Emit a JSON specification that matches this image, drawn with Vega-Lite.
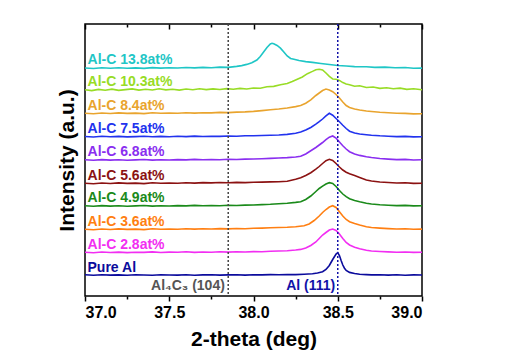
{
"$schema": "https://vega.github.io/schema/vega-lite/v6.json",
"width": 337, "height": 272,
"autosize": {"type": "none"},
"padding": {"left": 85, "top": 24, "right": 87, "bottom": 62},
"config": {
  "font": "Liberation Sans",
  "view": {"stroke": "black", "strokeWidth": 1.5},
  "axisY": {"labels": false, "ticks": false, "domain": false, "grid": false, "titleFontSize": 21, "titleFontWeight": "bold", "titleColor": "black", "titlePadding": 8, "titleFont": "Liberation Sans"},
  "axisX": {"grid": false, "domain": false}
},
"datasets": {
"spectra": [
{"s":"Pure","x":37.00,"y":20.2},{"s":"Pure","x":37.05,"y":19.8},{"s":"Pure","x":37.10,"y":20.3},{"s":"Pure","x":37.15,"y":19.9},{"s":"Pure","x":37.20,"y":20.1},{"s":"Pure","x":37.25,"y":19.7},{"s":"Pure","x":37.30,"y":20.2},{"s":"Pure","x":37.35,"y":20.0},{"s":"Pure","x":37.40,"y":19.8},{"s":"Pure","x":37.45,"y":20.3},{"s":"Pure","x":37.50,"y":20.0},{"s":"Pure","x":37.55,"y":19.9},{"s":"Pure","x":37.60,"y":20.2},{"s":"Pure","x":37.65,"y":19.8},{"s":"Pure","x":37.70,"y":20.1},{"s":"Pure","x":37.75,"y":20.3},{"s":"Pure","x":37.80,"y":19.9},{"s":"Pure","x":37.85,"y":20.1},{"s":"Pure","x":37.90,"y":20.2},{"s":"Pure","x":37.95,"y":19.9},{"s":"Pure","x":38.00,"y":20.3},{"s":"Pure","x":38.05,"y":20.1},{"s":"Pure","x":38.10,"y":20.4},{"s":"Pure","x":38.15,"y":20.2},{"s":"Pure","x":38.20,"y":20.5},{"s":"Pure","x":38.25,"y":20.4},{"s":"Pure","x":38.30,"y":20.8},{"s":"Pure","x":38.35,"y":21.3},{"s":"Pure","x":38.38,"y":22.0},{"s":"Pure","x":38.41,"y":23.3},{"s":"Pure","x":38.43,"y":25.5},{"s":"Pure","x":38.45,"y":29.5},{"s":"Pure","x":38.47,"y":35.5},{"s":"Pure","x":38.49,"y":41.0},{"s":"Pure","x":38.50,"y":42.3},{"s":"Pure","x":38.51,"y":39.5},{"s":"Pure","x":38.52,"y":34.5},{"s":"Pure","x":38.53,"y":30.0},{"s":"Pure","x":38.54,"y":26.8},{"s":"Pure","x":38.55,"y":24.5},{"s":"Pure","x":38.57,"y":22.6},{"s":"Pure","x":38.60,"y":21.5},{"s":"Pure","x":38.63,"y":20.8},{"s":"Pure","x":38.67,"y":20.4},{"s":"Pure","x":38.70,"y":20.1},{"s":"Pure","x":38.75,"y":20.3},{"s":"Pure","x":38.80,"y":19.9},{"s":"Pure","x":38.85,"y":20.2},{"s":"Pure","x":38.90,"y":19.8},{"s":"Pure","x":38.95,"y":20.1},{"s":"Pure","x":39.00,"y":20.0},
{"s":"2.8","x":37.00,"y":42.8},{"s":"2.8","x":37.05,"y":42.3},{"s":"2.8","x":37.10,"y":43.0},{"s":"2.8","x":37.15,"y":42.5},{"s":"2.8","x":37.20,"y":42.9},{"s":"2.8","x":37.25,"y":42.4},{"s":"2.8","x":37.30,"y":42.8},{"s":"2.8","x":37.35,"y":42.6},{"s":"2.8","x":37.40,"y":43.1},{"s":"2.8","x":37.45,"y":42.5},{"s":"2.8","x":37.50,"y":42.9},{"s":"2.8","x":37.55,"y":42.7},{"s":"2.8","x":37.60,"y":43.2},{"s":"2.8","x":37.65,"y":42.6},{"s":"2.8","x":37.70,"y":43.0},{"s":"2.8","x":37.75,"y":42.8},{"s":"2.8","x":37.80,"y":43.3},{"s":"2.8","x":37.85,"y":42.9},{"s":"2.8","x":37.90,"y":43.2},{"s":"2.8","x":37.95,"y":43.0},{"s":"2.8","x":38.00,"y":43.4},{"s":"2.8","x":38.05,"y":43.3},{"s":"2.8","x":38.10,"y":43.7},{"s":"2.8","x":38.15,"y":44.0},{"s":"2.8","x":38.20,"y":44.3},{"s":"2.8","x":38.25,"y":45.0},{"s":"2.8","x":38.28,"y":45.6},{"s":"2.8","x":38.31,"y":47.0},{"s":"2.8","x":38.34,"y":49.5},{"s":"2.8","x":38.37,"y":53.0},{"s":"2.8","x":38.39,"y":56.5},{"s":"2.8","x":38.41,"y":60.0},{"s":"2.8","x":38.43,"y":62.5},{"s":"2.8","x":38.45,"y":65.0},{"s":"2.8","x":38.47,"y":66.0},{"s":"2.8","x":38.49,"y":64.5},{"s":"2.8","x":38.51,"y":61.0},{"s":"2.8","x":38.53,"y":56.5},{"s":"2.8","x":38.55,"y":52.5},{"s":"2.8","x":38.57,"y":50.0},{"s":"2.8","x":38.60,"y":47.8},{"s":"2.8","x":38.63,"y":46.3},{"s":"2.8","x":38.67,"y":44.8},{"s":"2.8","x":38.70,"y":44.0},{"s":"2.8","x":38.75,"y":43.5},{"s":"2.8","x":38.80,"y":43.1},{"s":"2.8","x":38.85,"y":42.8},{"s":"2.8","x":38.90,"y":43.0},{"s":"2.8","x":38.95,"y":42.6},{"s":"2.8","x":39.00,"y":42.7},
{"s":"3.6","x":37.00,"y":65.8},{"s":"3.6","x":37.05,"y":65.3},{"s":"3.6","x":37.10,"y":66.0},{"s":"3.6","x":37.15,"y":65.5},{"s":"3.6","x":37.20,"y":66.1},{"s":"3.6","x":37.25,"y":65.6},{"s":"3.6","x":37.30,"y":65.9},{"s":"3.6","x":37.35,"y":65.4},{"s":"3.6","x":37.40,"y":66.2},{"s":"3.6","x":37.45,"y":65.7},{"s":"3.6","x":37.50,"y":66.0},{"s":"3.6","x":37.55,"y":65.8},{"s":"3.6","x":37.60,"y":66.3},{"s":"3.6","x":37.65,"y":65.9},{"s":"3.6","x":37.70,"y":66.2},{"s":"3.6","x":37.75,"y":66.0},{"s":"3.6","x":37.80,"y":66.4},{"s":"3.6","x":37.85,"y":66.1},{"s":"3.6","x":37.90,"y":66.5},{"s":"3.6","x":37.95,"y":66.3},{"s":"3.6","x":38.00,"y":66.7},{"s":"3.6","x":38.05,"y":66.9},{"s":"3.6","x":38.10,"y":67.2},{"s":"3.6","x":38.15,"y":67.5},{"s":"3.6","x":38.20,"y":67.8},{"s":"3.6","x":38.25,"y":68.3},{"s":"3.6","x":38.30,"y":69.3},{"s":"3.6","x":38.33,"y":71.0},{"s":"3.6","x":38.36,"y":74.5},{"s":"3.6","x":38.39,"y":79.0},{"s":"3.6","x":38.41,"y":82.5},{"s":"3.6","x":38.43,"y":85.5},{"s":"3.6","x":38.45,"y":88.0},{"s":"3.6","x":38.47,"y":89.3},{"s":"3.6","x":38.49,"y":87.5},{"s":"3.6","x":38.51,"y":83.3},{"s":"3.6","x":38.53,"y":79.0},{"s":"3.6","x":38.55,"y":75.5},{"s":"3.6","x":38.57,"y":73.3},{"s":"3.6","x":38.60,"y":71.5},{"s":"3.6","x":38.63,"y":70.0},{"s":"3.6","x":38.67,"y":68.3},{"s":"3.6","x":38.70,"y":67.5},{"s":"3.6","x":38.75,"y":66.9},{"s":"3.6","x":38.80,"y":66.4},{"s":"3.6","x":38.85,"y":66.0},{"s":"3.6","x":38.90,"y":66.2},{"s":"3.6","x":38.95,"y":65.7},{"s":"3.6","x":39.00,"y":65.9},
{"s":"4.9","x":37.00,"y":89.2},{"s":"4.9","x":37.05,"y":88.7},{"s":"4.9","x":37.10,"y":89.4},{"s":"4.9","x":37.15,"y":88.9},{"s":"4.9","x":37.20,"y":89.3},{"s":"4.9","x":37.25,"y":88.8},{"s":"4.9","x":37.30,"y":89.1},{"s":"4.9","x":37.35,"y":89.5},{"s":"4.9","x":37.40,"y":88.9},{"s":"4.9","x":37.45,"y":89.3},{"s":"4.9","x":37.50,"y":89.0},{"s":"4.9","x":37.55,"y":89.4},{"s":"4.9","x":37.60,"y":89.1},{"s":"4.9","x":37.65,"y":89.6},{"s":"4.9","x":37.70,"y":89.2},{"s":"4.9","x":37.75,"y":89.5},{"s":"4.9","x":37.80,"y":89.3},{"s":"4.9","x":37.85,"y":89.7},{"s":"4.9","x":37.90,"y":89.5},{"s":"4.9","x":37.95,"y":89.9},{"s":"4.9","x":38.00,"y":90.0},{"s":"4.9","x":38.05,"y":90.4},{"s":"4.9","x":38.10,"y":90.7},{"s":"4.9","x":38.15,"y":91.2},{"s":"4.9","x":38.20,"y":91.8},{"s":"4.9","x":38.25,"y":92.6},{"s":"4.9","x":38.28,"y":93.3},{"s":"4.9","x":38.31,"y":95.5},{"s":"4.9","x":38.34,"y":99.0},{"s":"4.9","x":38.37,"y":103.5},{"s":"4.9","x":38.39,"y":106.5},{"s":"4.9","x":38.41,"y":108.8},{"s":"4.9","x":38.43,"y":111.0},{"s":"4.9","x":38.45,"y":112.3},{"s":"4.9","x":38.47,"y":111.5},{"s":"4.9","x":38.49,"y":108.5},{"s":"4.9","x":38.51,"y":104.5},{"s":"4.9","x":38.53,"y":101.0},{"s":"4.9","x":38.55,"y":98.3},{"s":"4.9","x":38.57,"y":96.3},{"s":"4.9","x":38.60,"y":94.5},{"s":"4.9","x":38.63,"y":93.2},{"s":"4.9","x":38.67,"y":91.7},{"s":"4.9","x":38.70,"y":91.0},{"s":"4.9","x":38.75,"y":90.2},{"s":"4.9","x":38.80,"y":89.8},{"s":"4.9","x":38.85,"y":89.4},{"s":"4.9","x":38.90,"y":89.6},{"s":"4.9","x":38.95,"y":89.1},{"s":"4.9","x":39.00,"y":89.2},
{"s":"5.6","x":37.00,"y":111.8},{"s":"5.6","x":37.05,"y":111.3},{"s":"5.6","x":37.10,"y":112.0},{"s":"5.6","x":37.15,"y":111.5},{"s":"5.6","x":37.20,"y":112.1},{"s":"5.6","x":37.25,"y":111.6},{"s":"5.6","x":37.30,"y":111.9},{"s":"5.6","x":37.35,"y":111.4},{"s":"5.6","x":37.40,"y":112.2},{"s":"5.6","x":37.45,"y":111.7},{"s":"5.6","x":37.50,"y":112.0},{"s":"5.6","x":37.55,"y":111.8},{"s":"5.6","x":37.60,"y":112.3},{"s":"5.6","x":37.65,"y":111.9},{"s":"5.6","x":37.70,"y":112.4},{"s":"5.6","x":37.75,"y":112.1},{"s":"5.6","x":37.80,"y":112.5},{"s":"5.6","x":37.85,"y":112.2},{"s":"5.6","x":37.90,"y":112.6},{"s":"5.6","x":37.95,"y":112.4},{"s":"5.6","x":38.00,"y":112.8},{"s":"5.6","x":38.05,"y":112.9},{"s":"5.6","x":38.10,"y":113.1},{"s":"5.6","x":38.15,"y":113.2},{"s":"5.6","x":38.20,"y":113.8},{"s":"5.6","x":38.25,"y":115.8},{"s":"5.6","x":38.28,"y":117.3},{"s":"5.6","x":38.31,"y":119.5},{"s":"5.6","x":38.34,"y":122.3},{"s":"5.6","x":38.37,"y":125.8},{"s":"5.6","x":38.39,"y":128.5},{"s":"5.6","x":38.41,"y":131.5},{"s":"5.6","x":38.43,"y":134.3},{"s":"5.6","x":38.45,"y":135.7},{"s":"5.6","x":38.47,"y":134.5},{"s":"5.6","x":38.49,"y":131.5},{"s":"5.6","x":38.51,"y":128.0},{"s":"5.6","x":38.53,"y":125.0},{"s":"5.6","x":38.55,"y":122.8},{"s":"5.6","x":38.57,"y":121.3},{"s":"5.6","x":38.60,"y":119.5},{"s":"5.6","x":38.63,"y":117.5},{"s":"5.6","x":38.67,"y":115.0},{"s":"5.6","x":38.70,"y":114.0},{"s":"5.6","x":38.75,"y":113.0},{"s":"5.6","x":38.80,"y":112.5},{"s":"5.6","x":38.85,"y":112.0},{"s":"5.6","x":38.90,"y":112.2},{"s":"5.6","x":38.95,"y":111.6},{"s":"5.6","x":39.00,"y":111.8},
{"s":"6.8","x":37.00,"y":135.2},{"s":"6.8","x":37.05,"y":134.7},{"s":"6.8","x":37.10,"y":135.4},{"s":"6.8","x":37.15,"y":134.9},{"s":"6.8","x":37.20,"y":135.3},{"s":"6.8","x":37.25,"y":134.8},{"s":"6.8","x":37.30,"y":135.1},{"s":"6.8","x":37.35,"y":135.5},{"s":"6.8","x":37.40,"y":134.9},{"s":"6.8","x":37.45,"y":135.3},{"s":"6.8","x":37.50,"y":135.0},{"s":"6.8","x":37.55,"y":135.4},{"s":"6.8","x":37.60,"y":135.1},{"s":"6.8","x":37.65,"y":135.6},{"s":"6.8","x":37.70,"y":135.2},{"s":"6.8","x":37.75,"y":135.5},{"s":"6.8","x":37.80,"y":135.3},{"s":"6.8","x":37.85,"y":135.7},{"s":"6.8","x":37.90,"y":135.5},{"s":"6.8","x":37.95,"y":135.9},{"s":"6.8","x":38.00,"y":136.0},{"s":"6.8","x":38.05,"y":136.3},{"s":"6.8","x":38.10,"y":136.6},{"s":"6.8","x":38.15,"y":137.0},{"s":"6.8","x":38.20,"y":137.4},{"s":"6.8","x":38.25,"y":138.0},{"s":"6.8","x":38.28,"y":138.7},{"s":"6.8","x":38.31,"y":141.0},{"s":"6.8","x":38.34,"y":144.2},{"s":"6.8","x":38.37,"y":147.5},{"s":"6.8","x":38.39,"y":150.0},{"s":"6.8","x":38.41,"y":152.5},{"s":"6.8","x":38.43,"y":155.3},{"s":"6.8","x":38.45,"y":157.8},{"s":"6.8","x":38.47,"y":159.0},{"s":"6.8","x":38.49,"y":156.8},{"s":"6.8","x":38.51,"y":153.0},{"s":"6.8","x":38.53,"y":149.3},{"s":"6.8","x":38.55,"y":146.0},{"s":"6.8","x":38.57,"y":143.3},{"s":"6.8","x":38.60,"y":141.0},{"s":"6.8","x":38.63,"y":139.6},{"s":"6.8","x":38.67,"y":138.3},{"s":"6.8","x":38.70,"y":137.5},{"s":"6.8","x":38.75,"y":136.5},{"s":"6.8","x":38.80,"y":135.9},{"s":"6.8","x":38.85,"y":135.4},{"s":"6.8","x":38.90,"y":135.6},{"s":"6.8","x":38.95,"y":135.0},{"s":"6.8","x":39.00,"y":135.2},
{"s":"7.5","x":37.00,"y":158.5},{"s":"7.5","x":37.05,"y":158.0},{"s":"7.5","x":37.10,"y":158.7},{"s":"7.5","x":37.15,"y":158.2},{"s":"7.5","x":37.20,"y":158.6},{"s":"7.5","x":37.25,"y":158.1},{"s":"7.5","x":37.30,"y":158.4},{"s":"7.5","x":37.35,"y":158.8},{"s":"7.5","x":37.40,"y":158.2},{"s":"7.5","x":37.45,"y":158.6},{"s":"7.5","x":37.50,"y":158.3},{"s":"7.5","x":37.55,"y":158.7},{"s":"7.5","x":37.60,"y":158.4},{"s":"7.5","x":37.65,"y":158.9},{"s":"7.5","x":37.70,"y":158.5},{"s":"7.5","x":37.75,"y":158.8},{"s":"7.5","x":37.80,"y":158.6},{"s":"7.5","x":37.85,"y":159.0},{"s":"7.5","x":37.90,"y":158.8},{"s":"7.5","x":37.95,"y":159.2},{"s":"7.5","x":38.00,"y":159.3},{"s":"7.5","x":38.05,"y":159.5},{"s":"7.5","x":38.10,"y":159.7},{"s":"7.5","x":38.15,"y":160.0},{"s":"7.5","x":38.20,"y":160.6},{"s":"7.5","x":38.25,"y":161.8},{"s":"7.5","x":38.28,"y":163.0},{"s":"7.5","x":38.31,"y":165.0},{"s":"7.5","x":38.34,"y":167.5},{"s":"7.5","x":38.37,"y":170.8},{"s":"7.5","x":38.39,"y":173.3},{"s":"7.5","x":38.41,"y":176.0},{"s":"7.5","x":38.43,"y":179.2},{"s":"7.5","x":38.45,"y":181.7},{"s":"7.5","x":38.47,"y":179.8},{"s":"7.5","x":38.49,"y":176.5},{"s":"7.5","x":38.51,"y":173.3},{"s":"7.5","x":38.53,"y":169.8},{"s":"7.5","x":38.55,"y":166.5},{"s":"7.5","x":38.57,"y":163.8},{"s":"7.5","x":38.60,"y":162.0},{"s":"7.5","x":38.63,"y":161.0},{"s":"7.5","x":38.67,"y":160.3},{"s":"7.5","x":38.70,"y":159.8},{"s":"7.5","x":38.75,"y":159.2},{"s":"7.5","x":38.80,"y":158.8},{"s":"7.5","x":38.85,"y":158.4},{"s":"7.5","x":38.90,"y":158.6},{"s":"7.5","x":38.95,"y":158.1},{"s":"7.5","x":39.00,"y":158.3},
{"s":"8.4","x":37.00,"y":181.8},{"s":"8.4","x":37.05,"y":181.3},{"s":"8.4","x":37.10,"y":182.0},{"s":"8.4","x":37.15,"y":181.5},{"s":"8.4","x":37.20,"y":182.1},{"s":"8.4","x":37.25,"y":181.6},{"s":"8.4","x":37.30,"y":181.9},{"s":"8.4","x":37.35,"y":181.4},{"s":"8.4","x":37.40,"y":182.2},{"s":"8.4","x":37.45,"y":181.7},{"s":"8.4","x":37.50,"y":182.0},{"s":"8.4","x":37.55,"y":181.8},{"s":"8.4","x":37.60,"y":182.3},{"s":"8.4","x":37.65,"y":181.9},{"s":"8.4","x":37.70,"y":182.3},{"s":"8.4","x":37.75,"y":182.1},{"s":"8.4","x":37.80,"y":182.6},{"s":"8.4","x":37.85,"y":182.4},{"s":"8.4","x":37.90,"y":182.9},{"s":"8.4","x":37.95,"y":183.1},{"s":"8.4","x":38.00,"y":183.6},{"s":"8.4","x":38.05,"y":184.4},{"s":"8.4","x":38.10,"y":185.3},{"s":"8.4","x":38.15,"y":186.0},{"s":"8.4","x":38.20,"y":187.0},{"s":"8.4","x":38.25,"y":188.4},{"s":"8.4","x":38.28,"y":189.5},{"s":"8.4","x":38.31,"y":191.8},{"s":"8.4","x":38.34,"y":195.2},{"s":"8.4","x":38.37,"y":199.5},{"s":"8.4","x":38.39,"y":202.0},{"s":"8.4","x":38.41,"y":204.5},{"s":"8.4","x":38.43,"y":206.0},{"s":"8.4","x":38.45,"y":205.0},{"s":"8.4","x":38.47,"y":203.3},{"s":"8.4","x":38.49,"y":200.5},{"s":"8.4","x":38.51,"y":197.0},{"s":"8.4","x":38.53,"y":193.0},{"s":"8.4","x":38.55,"y":189.5},{"s":"8.4","x":38.57,"y":187.5},{"s":"8.4","x":38.60,"y":186.0},{"s":"8.4","x":38.63,"y":185.0},{"s":"8.4","x":38.67,"y":184.0},{"s":"8.4","x":38.70,"y":183.5},{"s":"8.4","x":38.75,"y":182.8},{"s":"8.4","x":38.80,"y":182.3},{"s":"8.4","x":38.85,"y":181.8},{"s":"8.4","x":38.90,"y":181.6},{"s":"8.4","x":38.95,"y":181.1},{"s":"8.4","x":39.00,"y":181.2},
{"s":"10.3","x":37.00,"y":205.3},{"s":"10.3","x":37.04,"y":204.4},{"s":"10.3","x":37.08,"y":205.6},{"s":"10.3","x":37.12,"y":204.8},{"s":"10.3","x":37.16,"y":205.9},{"s":"10.3","x":37.20,"y":204.6},{"s":"10.3","x":37.24,"y":205.4},{"s":"10.3","x":37.28,"y":206.1},{"s":"10.3","x":37.32,"y":204.9},{"s":"10.3","x":37.36,"y":205.8},{"s":"10.3","x":37.40,"y":205.0},{"s":"10.3","x":37.44,"y":206.2},{"s":"10.3","x":37.48,"y":205.1},{"s":"10.3","x":37.52,"y":205.7},{"s":"10.3","x":37.56,"y":204.9},{"s":"10.3","x":37.60,"y":206.0},{"s":"10.3","x":37.64,"y":205.3},{"s":"10.3","x":37.68,"y":206.3},{"s":"10.3","x":37.72,"y":205.4},{"s":"10.3","x":37.76,"y":206.1},{"s":"10.3","x":37.80,"y":205.5},{"s":"10.3","x":37.84,"y":206.4},{"s":"10.3","x":37.88,"y":205.7},{"s":"10.3","x":37.92,"y":206.6},{"s":"10.3","x":37.96,"y":206.0},{"s":"10.3","x":38.00,"y":207.0},{"s":"10.3","x":38.04,"y":206.8},{"s":"10.3","x":38.08,"y":208.2},{"s":"10.3","x":38.12,"y":208.6},{"s":"10.3","x":38.16,"y":210.3},{"s":"10.3","x":38.20,"y":211.5},{"s":"10.3","x":38.23,"y":213.5},{"s":"10.3","x":38.26,"y":215.8},{"s":"10.3","x":38.29,"y":218.0},{"s":"10.3","x":38.32,"y":221.3},{"s":"10.3","x":38.35,"y":223.6},{"s":"10.3","x":38.37,"y":225.3},{"s":"10.3","x":38.39,"y":225.7},{"s":"10.3","x":38.41,"y":225.0},{"s":"10.3","x":38.43,"y":222.0},{"s":"10.3","x":38.45,"y":218.6},{"s":"10.3","x":38.47,"y":216.0},{"s":"10.3","x":38.49,"y":215.8},{"s":"10.3","x":38.51,"y":214.6},{"s":"10.3","x":38.53,"y":212.4},{"s":"10.3","x":38.55,"y":210.9},{"s":"10.3","x":38.57,"y":210.3},{"s":"10.3","x":38.60,"y":208.7},{"s":"10.3","x":38.63,"y":209.2},{"s":"10.3","x":38.67,"y":207.5},{"s":"10.3","x":38.71,"y":208.0},{"s":"10.3","x":38.75,"y":206.6},{"s":"10.3","x":38.79,"y":207.2},{"s":"10.3","x":38.83,"y":206.2},{"s":"10.3","x":38.87,"y":206.9},{"s":"10.3","x":38.91,"y":205.6},{"s":"10.3","x":38.95,"y":206.2},{"s":"10.3","x":39.00,"y":205.3},
{"s":"13.8","x":37.00,"y":227.0},{"s":"13.8","x":37.05,"y":226.5},{"s":"13.8","x":37.10,"y":227.2},{"s":"13.8","x":37.15,"y":226.7},{"s":"13.8","x":37.20,"y":227.3},{"s":"13.8","x":37.25,"y":226.8},{"s":"13.8","x":37.30,"y":227.1},{"s":"13.8","x":37.35,"y":226.6},{"s":"13.8","x":37.40,"y":227.4},{"s":"13.8","x":37.45,"y":226.9},{"s":"13.8","x":37.50,"y":227.3},{"s":"13.8","x":37.55,"y":227.0},{"s":"13.8","x":37.60,"y":227.5},{"s":"13.8","x":37.65,"y":227.1},{"s":"13.8","x":37.70,"y":227.6},{"s":"13.8","x":37.75,"y":227.3},{"s":"13.8","x":37.80,"y":227.9},{"s":"13.8","x":37.85,"y":227.6},{"s":"13.8","x":37.90,"y":228.6},{"s":"13.8","x":37.93,"y":229.4},{"s":"13.8","x":37.96,"y":230.6},{"s":"13.8","x":37.99,"y":232.2},{"s":"13.8","x":38.02,"y":235.0},{"s":"13.8","x":38.04,"y":238.5},{"s":"13.8","x":38.06,"y":243.0},{"s":"13.8","x":38.08,"y":247.5},{"s":"13.8","x":38.10,"y":251.0},{"s":"13.8","x":38.11,"y":251.7},{"s":"13.8","x":38.12,"y":251.2},{"s":"13.8","x":38.14,"y":249.5},{"s":"13.8","x":38.16,"y":246.8},{"s":"13.8","x":38.18,"y":243.0},{"s":"13.8","x":38.20,"y":239.0},{"s":"13.8","x":38.22,"y":236.5},{"s":"13.8","x":38.24,"y":235.8},{"s":"13.8","x":38.27,"y":234.5},{"s":"13.8","x":38.31,"y":233.4},{"s":"13.8","x":38.35,"y":232.6},{"s":"13.8","x":38.40,"y":231.5},{"s":"13.8","x":38.45,"y":230.5},{"s":"13.8","x":38.50,"y":229.5},{"s":"13.8","x":38.55,"y":229.0},{"s":"13.8","x":38.60,"y":228.4},{"s":"13.8","x":38.67,"y":228.2},{"s":"13.8","x":38.72,"y":227.6},{"s":"13.8","x":38.78,"y":227.9},{"s":"13.8","x":38.84,"y":227.2},{"s":"13.8","x":38.90,"y":227.5},{"s":"13.8","x":38.95,"y":226.8},{"s":"13.8","x":39.00,"y":226.9}
],
"labels": [
{"s":"Pure","x":37.015,"y":27.5,"t":"Pure Al"},
{"s":"2.8","x":37.015,"y":50.5,"t":"Al-C 2.8at%"},
{"s":"3.6","x":37.015,"y":73.5,"t":"Al-C 3.6at%"},
{"s":"4.9","x":37.015,"y":96.8,"t":"Al-C 4.9at%"},
{"s":"5.6","x":37.015,"y":119.5,"t":"Al-C 5.6at%"},
{"s":"6.8","x":37.015,"y":142.8,"t":"Al-C 6.8at%"},
{"s":"7.5","x":37.015,"y":166.0,"t":"Al-C 7.5at%"},
{"s":"8.4","x":37.015,"y":189.5,"t":"Al-C 8.4at%"},
{"s":"10.3","x":37.015,"y":212.8,"t":"Al-C 10.3at%"},
{"s":"13.8","x":37.015,"y":235.5,"t":"Al-C 13.8at%"}
],
"refs": [{"x":37.85,"name":"Al4C3 (104)"},{"x":38.5,"name":"Al (111)"}],
"notes": [{"x":37.83,"y":9,"t":"Al₄C₃ (104)"},{"x":38.485,"y":9,"t":"Al (111)"}]
},
"layer": [
{
  "data": {"name": "spectra"},
  "mark": {"type": "line", "strokeWidth": 1.6, "interpolate": "linear"},
  "encoding": {
    "x": {"field": "x", "type": "quantitative", "scale": {"domain": [37, 39], "nice": false, "zero": false},
      "axis": {"orient": "bottom", "values": [37, 37.25, 37.5, 37.75, 38, 38.25, 38.5, 38.75, 39],
        "labelExpr": "datum.value % 0.5 == 0 ? format(datum.value, '.1f') : ''",
        "tickSize": {"condition": {"test": "datum.value % 0.5 == 0", "value": 5}, "value": 3},
        "tickWidth": 1.5, "tickColor": "black",
        "labelFont": "Liberation Sans", "labelFontSize": 16, "labelFontWeight": "bold", "labelColor": "black", "labelPadding": 3,
        "title": "2-theta (deg)", "titleFont": "Liberation Sans", "titleFontSize": 21, "titleFontWeight": "bold", "titleColor": "black", "titlePadding": 8}},
    "y": {"field": "y", "type": "quantitative", "scale": {"domain": [-1, 271], "nice": false, "zero": false}, "title": "Intensity (a.u.)"},
    "color": {"field": "s", "type": "nominal", "legend": null,
      "scale": {"domain": ["Pure","2.8","3.6","4.9","5.6","6.8","7.5","8.4","10.3","13.8"],
        "range": ["#0b0b9c","#f22ef2","#ff7f12","#1a8a1a","#8b1212","#8a2ef0","#2233ee","#e9a42e","#98dc26","#1fc6c6"]}},
    "detail": {"field": "s"}
  }
},
{
  "data": {"name": "refs"},
  "transform": [{"filter": "datum.x < 38"}],
  "mark": {"type": "rule", "color": "#444444", "strokeWidth": 1.5, "strokeDash": [2, 2]},
  "encoding": {
    "x": {"field": "x", "type": "quantitative",
      "axis": {"orient": "top", "values": [37, 37.25, 37.5, 37.75, 38, 38.25, 38.5, 38.75, 39], "labels": false, "title": null,
        "tickSize": {"condition": {"test": "datum.value % 0.5 == 0", "value": -5}, "value": -3},
        "tickWidth": 1.5, "tickColor": "black"}}
  }
},
{
  "data": {"name": "refs"},
  "transform": [{"filter": "datum.x > 38"}],
  "mark": {"type": "rule", "color": "#1212a8", "strokeWidth": 1.5, "strokeDash": [2, 2]},
  "encoding": {"x": {"field": "x", "type": "quantitative", "axis": null}}
},
{
  "data": {"name": "labels"},
  "mark": {"type": "text", "align": "left", "baseline": "middle", "font": "Liberation Sans", "fontSize": 14, "fontWeight": "bold"},
  "encoding": {
    "x": {"field": "x", "type": "quantitative", "axis": null},
    "y": {"field": "y", "type": "quantitative", "title": "Intensity (a.u.)"},
    "text": {"field": "t"},
    "color": {"field": "s", "type": "nominal", "legend": null}
  }
},
{
  "data": {"name": "notes"},
  "transform": [{"filter": "datum.x < 38"}],
  "mark": {"type": "text", "align": "right", "baseline": "middle", "font": "Liberation Sans", "fontSize": 14, "fontWeight": "bold", "color": "#555555"},
  "encoding": {
    "x": {"field": "x", "type": "quantitative", "axis": null},
    "y": {"field": "y", "type": "quantitative", "title": "Intensity (a.u.)"},
    "text": {"field": "t"}
  }
},
{
  "data": {"name": "notes"},
  "transform": [{"filter": "datum.x > 38"}],
  "mark": {"type": "text", "align": "right", "baseline": "middle", "font": "Liberation Sans", "fontSize": 14, "fontWeight": "bold", "color": "#1212a8"},
  "encoding": {
    "x": {"field": "x", "type": "quantitative", "axis": null},
    "y": {"field": "y", "type": "quantitative", "title": "Intensity (a.u.)"},
    "text": {"field": "t"}
  }
}
],
"resolve": {"axis": {"x": "independent"}}
}
